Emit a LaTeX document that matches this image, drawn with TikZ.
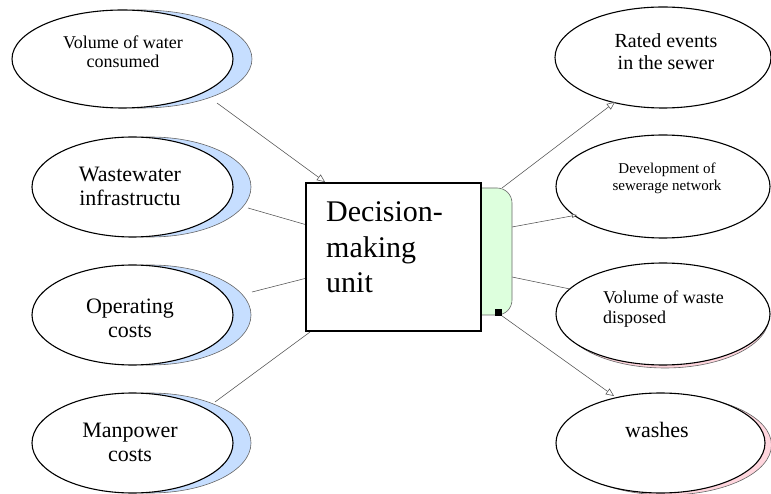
\documentclass[tikz,border=0pt]{standalone}
\usepackage{fontspec}
\setmainfont{Liberation Serif}
\usetikzlibrary{arrows.meta,shapes.geometric}
\definecolor{shblue}{RGB}{198,222,255}
\definecolor{shpink}{RGB}{255,214,222}
\definecolor{dmgreen}{RGB}{221,255,221}
\definecolor{conn}{RGB}{80,80,80}
\begin{document}
\begin{tikzpicture}[x=1pt,y=-1pt,
  ell/.style={ellipse,draw=black,line width=1.1pt,fill=white,inner sep=0pt},
  shb/.style={ellipse,draw=black!60,line width=0.6pt,fill=shblue,inner sep=0pt},
  shp/.style={ellipse,draw=black!60,line width=0.6pt,fill=shpink,inner sep=0pt},
  txt/.style={align=center,inner sep=0pt},
  link/.style={draw=conn,line width=0.55pt},
  arr/.style={link,-{Triangle[open,length=8pt,width=7pt,fill=white]}},
  sarr/.style={link,-{Triangle[open,length=5pt,width=4pt,fill=white]}}]
\useasboundingbox (0,0) rectangle (771,494);
\clip (0,0) rectangle (771,494);
% shadows
\node[shb,minimum width=221pt,minimum height=98pt] (v1s) at (141.5,59) {};
\node[shb,minimum width=201pt,minimum height=100pt] (v2s) at (150.5,187) {};
\node[shb,minimum width=201pt,minimum height=100pt] (v3s) at (150.5,315) {};
\node[shb,minimum width=201pt,minimum height=100pt] (v4s) at (150.5,443) {};
\node[shp,minimum width=208pt,minimum height=102pt] (w3s) at (665,317) {};
\node[shp,minimum width=209pt,minimum height=100pt] (w4s) at (667,445) {};
% ellipses
\node[ell,minimum width=221pt,minimum height=98pt] (v1) at (122.5,59) {};
\node[ell,minimum width=201pt,minimum height=100pt] (v2) at (132.5,187) {};
\node[ell,minimum width=201pt,minimum height=100pt] (v3) at (132.5,315) {};
\node[ell,minimum width=201pt,minimum height=100pt] (v4) at (132.5,443) {};
\node[ell,minimum width=216pt,minimum height=101pt] (w1) at (663,57.5) {};
\node[ell,minimum width=214pt,minimum height=103pt] (w2) at (663,186.5) {};
\node[ell,minimum width=214pt,minimum height=102pt] (w3) at (663,314) {};
\node[ell,minimum width=209pt,minimum height=100pt] (w4) at (660.5,443) {};
% texts
\node[txt,font=\fontsize{18}{19}\selectfont] (t1) at (123,51.5) {Volume of water\\consumed};
\node[txt,font=\fontsize{22}{24}\selectfont] (t2) at (130,186.7) {Wastewater\\infrastructu};
\node[txt,font=\fontsize{22}{24}\selectfont] (t3) at (130,318.7) {Operating\\costs};
\node[txt,font=\fontsize{22}{24}\selectfont] (t4) at (130,442.7) {Manpower\\costs};
\node[txt,font=\fontsize{20}{22}\selectfont] (u1) at (666,52) {Rated events\\in the sewer};
\node[txt,font=\fontsize{15}{17}\selectfont] (u2) at (667,178) {Development of\\sewerage network};
\node[txt,align=left,anchor=west,font=\fontsize{18}{20}\selectfont] (u3) at (603,308.8) {Volume of waste\\disposed};
\node[txt,font=\fontsize{22}{24}\selectfont] (u4) at (657,429.5) {washes};
% connector end points
\coordinate (a1) at (217,103);
\coordinate (a2) at (248,208);
\coordinate (a3) at (252,292);
\coordinate (a4) at (215,402);
\coordinate (b1) at (325,182);
\coordinate (b2) at (307,225);
\coordinate (b3) at (307,278);
\coordinate (b4) at (310,332);
\coordinate (c1) at (502,188);
\coordinate (c2) at (512,227);
\coordinate (c3) at (512,277);
\coordinate (c4) at (498,313);
\coordinate (d1) at (615,102);
\coordinate (d2) at (577,215);
\coordinate (d3) at (570,289);
\coordinate (d4) at (614,396);
% connectors
\draw[arr] (a1) -- (b1);
\draw[link] (a2) -- (b2);
\draw[link] (a3) -- (b3);
\draw[link] (a4) -- (b4);
\draw[arr] (c1) -- (d1);
\draw[sarr] (c2) -- (d2);
\draw[link] (c3) -- (d3);
\draw[arr] (c4) -- (d4);
% decision unit
\node[draw=black!60,line width=0.6pt,fill=dmgreen,rounded corners=15pt,minimum width=112pt,minimum height=127pt,inner sep=0pt] (dmg) at (456,251.5) {};
\node[draw=black,line width=1.3pt,fill=white,minimum width=175pt,minimum height=148pt,inner sep=0pt] (dmu) at (393.5,257) {};
\node[txt,align=left,anchor=west,font=\fontsize{30}{35.5}\selectfont] (dmt) at (326,247.4) {Decision-\\making\\unit};
\node[fill=black,minimum size=7pt,inner sep=0pt] (sq) at (498,313) {};
\end{tikzpicture}
\end{document}
